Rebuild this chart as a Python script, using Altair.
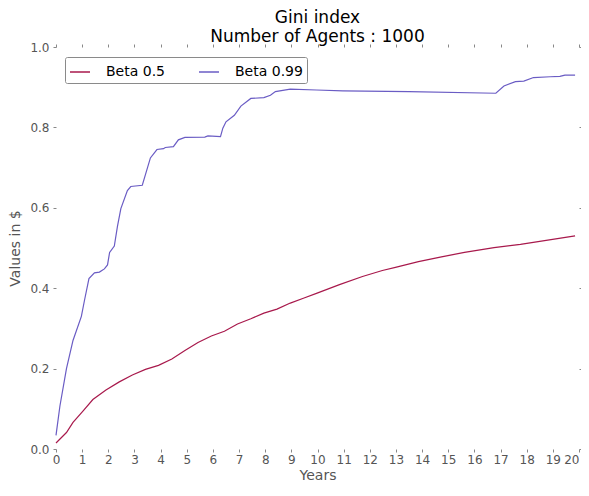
import altair as alt
import pandas as pd

series_names = ["Beta 0.5", "Beta 0.99"]
series_colors = ["#a8194c", "#6a5cc4"]

years_beta05 = [0, 0.4, 0.65, 1.03, 1.41, 1.91, 2.42, 2.92, 3.42, 3.92, 4.43, 4.93,
                5.43, 5.94, 6.44, 6.94, 7.45, 7.95, 8.45, 8.96, 9.46, 9.96, 10.84,
                11.72, 12.48, 12.98, 13.86, 14.74, 15.62, 16.75, 17.76, 19.85]
gini_beta05 = [0.015, 0.041, 0.066, 0.094, 0.123, 0.147, 0.167, 0.184, 0.198, 0.208,
               0.224, 0.245, 0.265, 0.281, 0.293, 0.311, 0.324, 0.338, 0.348, 0.363,
               0.375, 0.387, 0.409, 0.429, 0.444, 0.452, 0.466, 0.478, 0.489, 0.501,
               0.509, 0.53]

years_beta099 = [0, 0.15, 0.4, 0.65, 0.97, 1.09, 1.26, 1.47, 1.66, 1.85, 1.97, 2.05,
                 2.23, 2.35, 2.48, 2.73, 2.86, 3.3, 3.61, 3.86, 4.11, 4.18, 4.49, 4.68,
                 4.93, 5.69, 5.81, 6.29, 6.38, 6.5, 6.82, 7.07, 7.45, 7.95, 8.2, 8.39,
                 8.96, 9.96, 10.97, 13.5, 16.82, 17.13, 17.57, 17.89, 18.26, 18.9,
                 19.27, 19.46, 19.85]
gini_beta099 = [0.034, 0.107, 0.2, 0.27, 0.33, 0.37, 0.424, 0.438, 0.44, 0.448, 0.458,
                0.489, 0.505, 0.554, 0.598, 0.643, 0.653, 0.656, 0.724, 0.745, 0.747,
                0.75, 0.752, 0.769, 0.775, 0.776, 0.779, 0.777, 0.798, 0.814, 0.83,
                0.853, 0.872, 0.874, 0.88, 0.889, 0.895, 0.893, 0.891, 0.889, 0.885,
                0.903, 0.914, 0.915, 0.924, 0.926, 0.927, 0.93, 0.93]

x_ticks = list(range(0, 21))
y_ticks = [0.0, 0.2, 0.4, 0.6, 0.8, 1.0]

rows = []
for t, v in zip(years_beta05, gini_beta05):
    rows.append({"Years": t, "value": v, "series": series_names[0]})
for t, v in zip(years_beta099, gini_beta099):
    rows.append({"Years": t, "value": v, "series": series_names[1]})
df = pd.DataFrame(rows)

FONT = "DejaVu Sans"
tick_color = "#888888"
label_color = "#555555"

x_scale = alt.Scale(domain=[0, 20], nice=False, zero=False)
y_scale = alt.Scale(domain=[0, 1], nice=False)

main = alt.Chart(df).mark_line(strokeWidth=1.2).encode(
    x=alt.X("Years:Q", scale=x_scale,
            axis=alt.Axis(values=x_ticks, title="Years", format="d", orient="bottom",
                          labelFlush=False,
                          labelAlign={"expr": "datum.value == 20 ? 'right' : 'center'"},
                          labelPadding=2, titlePadding=3)),
    y=alt.Y("value:Q", scale=y_scale,
            axis=alt.Axis(values=y_ticks, title="Values in $", format=".1f", orient="left",
                          labelFlush=False, labelPadding=4, titlePadding=7)),
    color=alt.Color("series:N",
                    scale=alt.Scale(domain=series_names, range=series_colors),
                    legend=alt.Legend(title=None, orient="none", legendX=9, legendY=10,
                                      direction="horizontal", symbolType="stroke",
                                      symbolSize=400, symbolStrokeWidth=1.5,
                                      labelFontSize=14, labelFont=FONT, labelColor="black",
                                      labelOffset=15, columnPadding=30,
                                      fillColor="white", strokeColor="#8a8a8a",
                                      padding=4, cornerRadius=2)),
    detail="series:N",
)

ghost = alt.Chart(df).mark_line(opacity=0).encode(
    x=alt.X("Years:Q", scale=x_scale,
            axis=alt.Axis(values=x_ticks, orient="top", labels=False, title=None)),
    y=alt.Y("value:Q", scale=y_scale,
            axis=alt.Axis(values=y_ticks, orient="right", labels=False, title=None)),
    detail="series:N",
)

chart = alt.layer(main, ghost).resolve_axis(x="independent", y="independent").properties(
    width=523,
    height=402,
    autosize=alt.AutoSizeParams(type="none"),
    padding={"left": 48, "top": 39, "right": 2, "bottom": 34},
    title=alt.TitleParams(text=["Gini index", "Number of Agents : 1000"],
                          font=FONT, fontSize=17, fontWeight="normal", color="black",
                          anchor="middle", offset=-5, lineHeight=19),
).configure_axis(
    domain=False,
    grid=False,
    ticks=True,
    tickSize=3,
    tickColor=tick_color,
    labelFont=FONT,
    labelFontSize=12,
    labelColor=label_color,
    titleFont=FONT,
    titleFontSize=14,
    titleFontWeight="normal",
    titleColor=label_color,
).configure_view(stroke=None)

chart.save("out.html", embed_options={"renderer": "svg", "actions": False})
